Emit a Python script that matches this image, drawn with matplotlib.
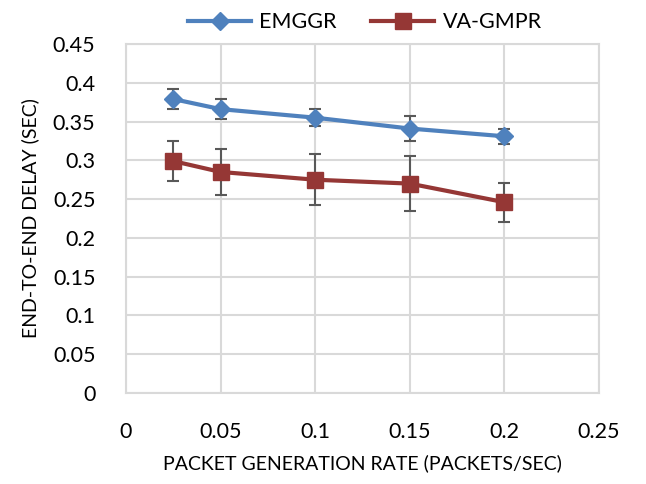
"""End-to-end delay vs packet generation rate for EMGGR and VA-GMPR."""

import matplotlib

matplotlib.use("Agg")
import matplotlib.pyplot as plt

rates = [0.025, 0.05, 0.1, 0.15, 0.2]

emggr_delay = [0.379, 0.366, 0.355, 0.341, 0.331]
emggr_err = [0.013, 0.0125, 0.011, 0.016, 0.010]

vagmpr_delay = [0.299, 0.285, 0.275, 0.270, 0.246]
vagmpr_err = [0.026, 0.030, 0.033, 0.035, 0.025]

x_ticks = [0, 0.05, 0.1, 0.15, 0.2, 0.25]
x_tick_labels = ["0", "0.05", "0.1", "0.15", "0.2", "0.25"]
y_ticks = [0, 0.05, 0.1, 0.15, 0.2, 0.25, 0.3, 0.35, 0.4, 0.45]
y_tick_labels = ["0", "0.05", "0.1", "0.15", "0.2", "0.25", "0.3", "0.35", "0.4", "0.45"]

plt.rcParams["font.family"] = ["Lato", "DejaVu Sans"]

figure = plt.figure(figsize=(6.46, 4.84), dpi=100)
axis = figure.add_axes([126 / 646, 1 - 393 / 484, 473 / 646, 349 / 484])

series = [
    ("EMGGR", emggr_delay, emggr_err, "#4F81BD", "D", 9.5),
    ("VA-GMPR", vagmpr_delay, vagmpr_err, "#953735", "s", 12),
]
for label, values, errors, color, marker, size in series:
    axis.errorbar(
        rates,
        values,
        yerr=errors,
        color=color,
        linewidth=3,
        marker=marker,
        markersize=size,
        ecolor="#595959",
        elinewidth=1.5,
        capsize=4.5,
        capthick=1.5,
        label=label,
        zorder=3,
    )

axis.set_xlim(0, 0.25)
axis.set_ylim(0, 0.45)
axis.set_xticks(x_ticks, x_tick_labels)
axis.set_yticks(y_ticks, y_tick_labels)
axis.tick_params(length=0, labelsize=15.5, colors="#000000")
axis.tick_params(axis="y", pad=22)
axis.tick_params(axis="x", pad=21)
axis.grid(color="#D9D9D9", linewidth=1.5)
axis.set_axisbelow(True)
for spine in axis.spines.values():
    spine.set_color("#D9D9D9")
    spine.set_linewidth(1.5)

axis.set_xlabel("PACKET GENERATION RATE (PACKETS/SEC)", fontsize=14, labelpad=9)
axis.set_ylabel("END-TO-END DELAY (SEC)", fontsize=14, labelpad=10)

handles, labels = axis.get_legend_handles_labels()
handles = [h[0] for h in handles]
figure.legend(
    handles,
    labels,
    loc="upper center",
    bbox_to_anchor=(0.565, 1.015),
    ncol=2,
    frameon=False,
    fontsize=15.5,
    handlelength=2.9,
    handletextpad=0.4,
    columnspacing=1.6,
)

figure.savefig("out.png", dpi=100)
